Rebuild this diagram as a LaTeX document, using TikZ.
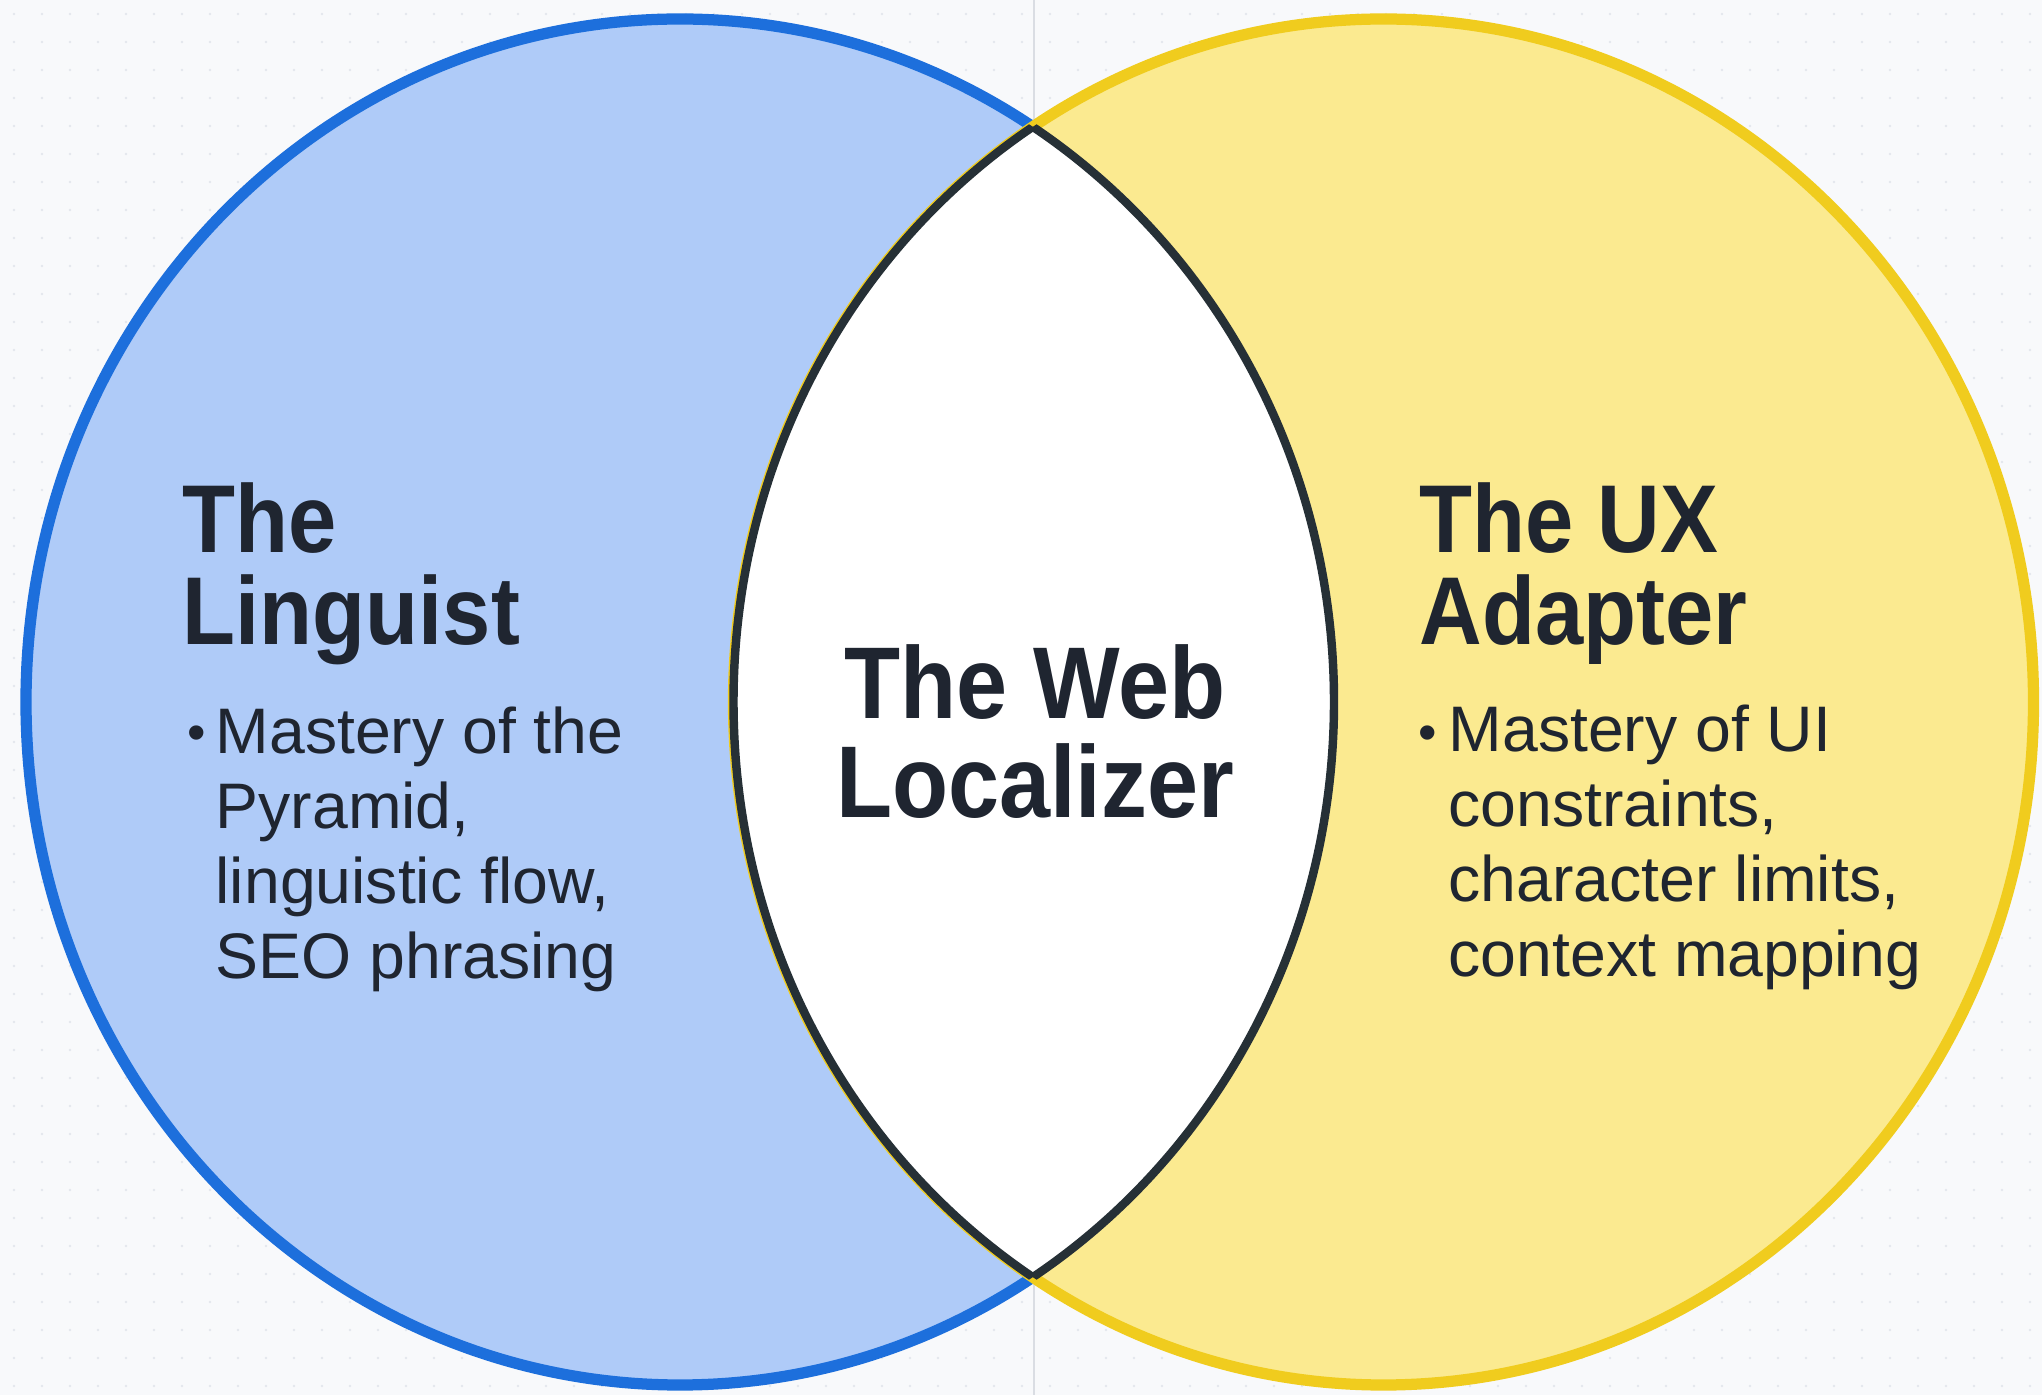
\documentclass[tikz,border=0pt]{standalone}
\usepackage{fontspec}
\setmainfont{Liberation Sans}
\newfontfamily\headfont[FakeStretch=0.9]{Liberation Sans}
\usepackage{tikz}
\usetikzlibrary{positioning}

\definecolor{paper}{HTML}{F8F9FB}
\definecolor{dotc}{HTML}{E4E7ED}
\definecolor{rulec}{HTML}{DADDE3}
\definecolor{bluefill}{HTML}{AFCBF8}
\definecolor{blueline}{HTML}{1D6FDC}
\definecolor{yellowfill}{HTML}{FBEA90}
\definecolor{yellowline}{HTML}{F0CC1E}
\definecolor{lensline}{HTML}{263036}
\definecolor{ink}{HTML}{1F2530}

\tikzset{
  headtext/.style={inner sep=0, anchor=base west, align=left, text=ink,
    font=\headfont\bfseries\fontsize{27.4}{26.2}\selectfont},
  webtext/.style={inner sep=0, anchor=base, align=center, text=ink,
    font=\headfont\bfseries\fontsize{29}{28.2}\selectfont},
  bodytext/.style={inner sep=0, anchor=base west, align=left, text=ink,
    font=\fontsize{18.3}{21.4}\selectfont},
  ptbullet/.style={inner sep=0, anchor=base west, text=ink,
    font=\fontsize{15}{18}\selectfont}
}

\begin{document}
\begin{tikzpicture}[x=0.01cm, y=-0.01cm]
  \def\gap{28} % spacing of the background dots
  \def\lx{680} % centre of the left circle
  \def\rx{1383.5} % centre of the right circle
  \def\cy{702}
  \useasboundingbox (0,0) rectangle (2042,1395);
  \fill[paper] (0,0) rectangle (2042,1395);
  % dotted background and middle rule
  \foreach \i in {0,1,...,72} {
    \foreach \j in {0,1,...,49} {
      \fill[dotc] (\i*\gap+14, \j*\gap+14) circle [radius=1.4];
    }
  }
  \draw[rulec, line width=0.5pt] (1034,0) -- (1034,1395);
  % the two circles
  \filldraw[fill=bluefill, draw=blueline, line width=3.2pt]
    (\lx,\cy) ellipse [x radius=654, y radius=683];
  \filldraw[fill=yellowfill, draw=yellowline, line width=3.2pt]
    (\rx,\cy) ellipse [x radius=650, y radius=683];
  % the overlap
  \begin{scope}
    \clip (\lx,\cy) ellipse [x radius=654, y radius=683];
    \fill[white] (\rx,\cy) ellipse [x radius=650, y radius=683];
    \draw[lensline, line width=2.4pt] (\rx,\cy) ellipse [x radius=650, y radius=683];
  \end{scope}
  \begin{scope}
    \clip (\rx,\cy) ellipse [x radius=650, y radius=683];
    \draw[lensline, line width=2.4pt] (\lx,\cy) ellipse [x radius=654, y radius=683];
  \end{scope}

  % base of a block is its last line
  \node[headtext] (linguist) at (182,645) {The\\Linguist};
  \node[ptbullet] (linguistdot) at (187,751) {•};
  \node[bodytext] (linguistpts) at (215,979)
    {Mastery of the\\Pyramid,\\linguistic flow,\\SEO phrasing};

  \node[webtext] (web) at (1035,818) {The Web\\Localizer};

  \node[headtext] (ux) at (1419,645) {The UX\\Adapter};
  \node[ptbullet] (uxdot) at (1418,751) {•};
  \node[bodytext] (uxpts) at (1448,977)
    {Mastery of UI\\constraints,\\character limits,\\context mapping};
\end{tikzpicture}
\end{document}
